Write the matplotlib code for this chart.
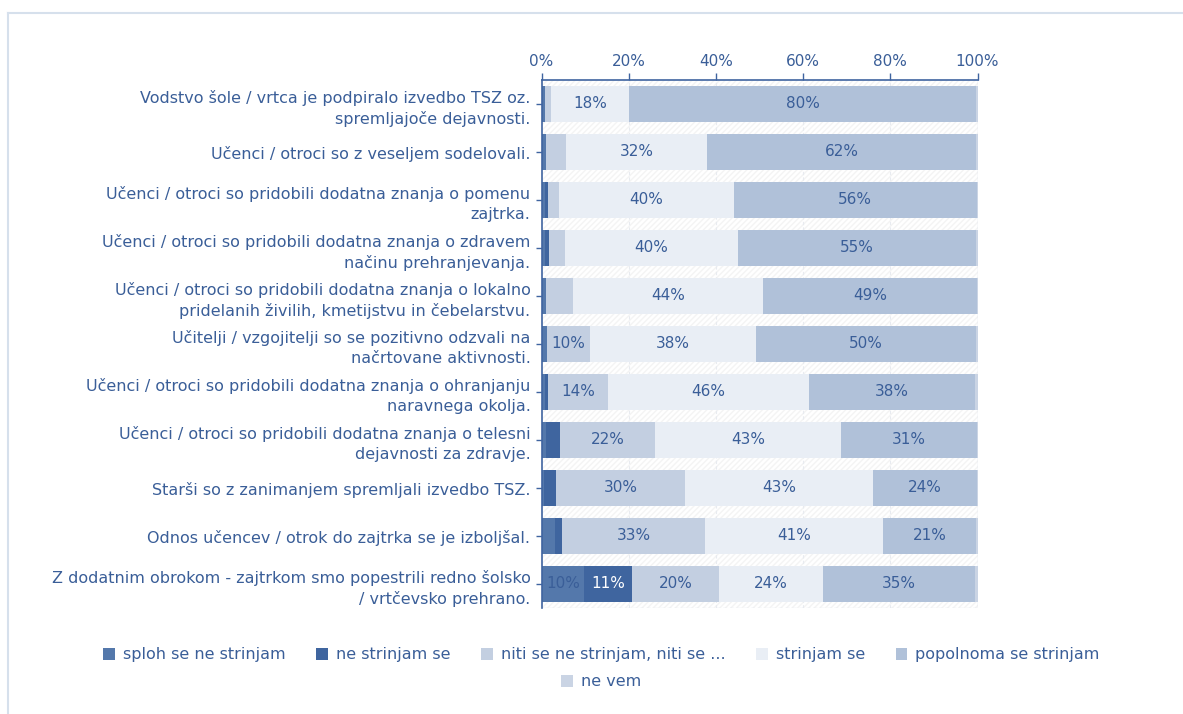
import matplotlib
matplotlib.use("Agg")
import matplotlib.pyplot as plt
from matplotlib.patches import Rectangle, Patch
from matplotlib.lines import Line2D
import numpy as np

categories = [
    "Vodstvo šole / vrtca je podpiralo izvedbo TSZ oz.\nspremljajoče dejavnosti.",
    "Učenci / otroci so z veseljem sodelovali.",
    "Učenci / otroci so pridobili dodatna znanja o pomenu\nzajtrka.",
    "Učenci / otroci so pridobili dodatna znanja o zdravem\nnačinu prehranjevanja.",
    "Učenci / otroci so pridobili dodatna znanja o lokalno\npridelanih živilih, kmetijstvu in čebelarstvu.",
    "Učitelji / vzgojitelji so se pozitivno odzvali na\nnačrtovane aktivnosti.",
    "Učenci / otroci so pridobili dodatna znanja o ohranjanju\nnaravnega okolja.",
    "Učenci / otroci so pridobili dodatna znanja o telesni\ndejavnosti za zdravje.",
    "Starši so z zanimanjem spremljali izvedbo TSZ.",
    "Odnos učencev / otrok do zajtrka se je izboljšal.",
    "Z dodatnim obrokom - zajtrkom smo popestrili redno šolsko\n/ vrtčevsko prehrano.",
]

series_names = ["sploh se ne strinjam", "ne strinjam se", "niti se ne strinjam, niti se ...",
                "strinjam se", "popolnoma se strinjam", "ne vem"]

sploh      = [0.9, 1.1, 0.8, 0.7, 1.1, 1.2, 0.8, 1.1, 0.5, 3.0, 9.8]
ne_str     = [0.0, 0.0, 0.8, 1.0, 0.0, 0.0, 0.7, 3.2, 2.9, 1.6, 11.0]
niti       = [1.3, 4.5, 2.5, 3.7, 6.1, 9.9, 13.8, 21.8, 29.6, 33.0, 20.0]
strinjam   = [17.9, 32.4, 40.0, 39.6, 43.6, 38.2, 46.0, 42.7, 43.0, 40.7, 23.7]
popolnoma  = [79.6, 61.7, 55.7, 54.7, 49.0, 50.3, 38.2, 31.0, 23.8, 21.3, 35.0]
ne_vem     = [0.3, 0.3, 0.2, 0.3, 0.2, 0.4, 0.5, 0.2, 0.2, 0.4, 0.5]

tick_values = [0, 20, 40, 60, 80, 100]
tick_labels = ["0%", "20%", "40%", "60%", "80%", "100%"]

colors = ["#5478ab", "#3f659f", "#c3cfe1", "#e9eef5", "#b0c1d9", "#cad4e4"]
label_colors = ["#3a5e98", "#ffffff", "#3a5e98", "#3a5e98", "#3a5e98", "#3a5e98"]
text_color = "#3a5e98"
axis_color = "#3f64a0"
FS = 11.5

data = [sploh, ne_str, niti, strinjam, popolnoma, ne_vem]

W, H = 1183, 714
fig = plt.figure(figsize=(W / 100, H / 100), dpi=100)
plt.rcParams['font.family'] = ['DejaVu Sans']

# outer frame
fig.add_artist(Line2D([8 / W, 8 / W], [0, 1 - 13 / H], transform=fig.transFigure,
                      color="#d6e0ec", lw=1.5))
fig.add_artist(Line2D([8 / W, 1], [1 - 13 / H, 1 - 13 / H], transform=fig.transFigure,
                      color="#d6e0ec", lw=1.5))

ax = fig.add_axes([541.5 / W, 1 - 608 / H, (977.5 - 541.5) / W, (608 - 80) / H])

n = len(categories)
y = np.arange(n)

# faint hatched background
bg = Rectangle((0, -0.5), 100, n, facecolor="white", edgecolor="#f4f4f4",
               hatch="//////", lw=0, zorder=0)
ax.add_patch(bg)

for xv in tick_values[1:-1]:
    ax.axvline(xv, color="#e8ebf0", lw=0.8, ls=(0, (3, 2)), zorder=0.5)
ax.axvline(100, color="#dde4ee", lw=1.0, zorder=0.5)

left = np.zeros(n)
for i, vals in enumerate(data):
    vals = np.array(vals)
    ax.barh(y, vals, left=left, height=0.77, color=colors[i], edgecolor="none", zorder=2)
    for j in range(n):
        if vals[j] >= 9.5:
            ax.text(left[j] + vals[j] / 2, y[j], f"{round(vals[j]):d}%",
                    ha="center", va="center", fontsize=11, color=label_colors[i], zorder=3)
    left += vals

ax.set_xlim(0, 100)
ax.set_ylim(n - 0.5, -0.5)
ax.xaxis.tick_top()
ax.set_xticks(tick_values)
ax.set_xticklabels(tick_labels)
ax.set_yticks(y)
ax.set_yticklabels(categories)
ax.tick_params(axis="x", colors=axis_color, labelcolor=text_color, labelsize=11,
               length=5, width=1, pad=3)
ax.tick_params(axis="y", colors=axis_color, labelcolor=text_color, labelsize=FS,
               length=4, width=1, pad=4)
for lab in ax.get_yticklabels():
    lab.set_linespacing(1.45)

for s in ["right", "bottom"]:
    ax.spines[s].set_visible(False)
ax.spines["top"].set_color(axis_color)
ax.spines["left"].set_color(axis_color)
ax.spines["top"].set_linewidth(1.2)
ax.spines["left"].set_linewidth(1.2)
ax.axhline(n - 0.5, color="#e3e8f0", lw=1, ls=(0, (3, 2)), zorder=1)

handles = [Patch(facecolor=c, edgecolor="none") for c in colors]
leg1 = fig.legend(handles[:5], series_names[:5], loc="center", ncol=5,
                  bbox_to_anchor=(0.5085, 1 - 655 / H), frameon=False, fontsize=FS,
                  labelcolor=text_color, handlelength=0.75, handleheight=0.75,
                  handletextpad=0.5, columnspacing=1.9)
leg2 = fig.legend(handles[5:], series_names[5:], loc="center", ncol=1,
                  bbox_to_anchor=(0.5085, 1 - 682 / H), frameon=False, fontsize=FS,
                  labelcolor=text_color, handlelength=0.75, handleheight=0.75,
                  handletextpad=0.5)

fig.savefig("out.png", dpi=100)
